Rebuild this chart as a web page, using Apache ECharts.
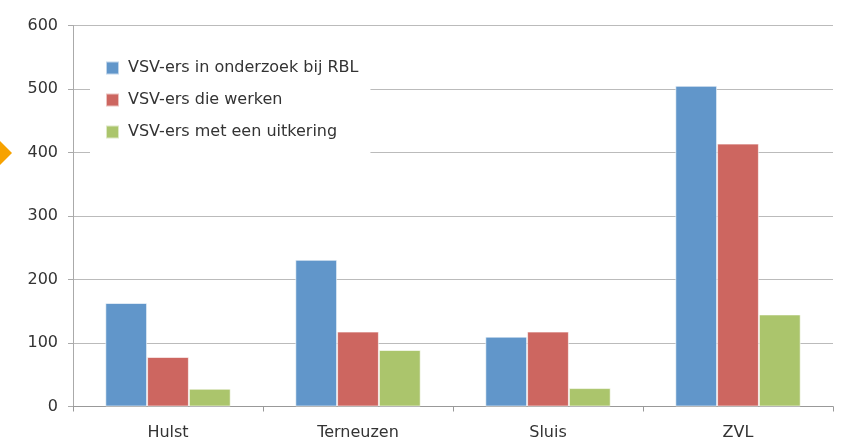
<!DOCTYPE html>
<html>
<head>
<meta charset="utf-8">
<script src="https://cdn.jsdelivr.net/npm/echarts@6/dist/echarts.min.js"></script>
<style>
  html, body { margin: 0; padding: 0; background: #fff; }
  #chart { width: 851px; height: 439px; }
</style>
</head>
<body>
<div id="chart"></div>
<script>
  // categorieen en waarden
  var regios = ['Hulst', 'Terneuzen', 'Sluis', 'ZVL'];
  var onderzoek = [163, 231, 110, 505];
  var werken = [78, 118, 118, 414];
  var uitkering = [28, 89, 29, 145];
  var reeksNamen = ['VSV-ers in onderzoek bij RBL', 'VSV-ers die werken', 'VSV-ers met een uitkering'];
  var kleuren = ['#6196ca', '#cd6660', '#abc56c'];

  var font = '"DejaVu Sans", "Noto Sans", sans-serif';
  var chart = echarts.init(document.getElementById('chart'));

  function reeks(i, data) {
    return {
      name: reeksNamen[i],
      type: 'bar',
      data: data,
      barGap: '0%',
      barCategoryGap: '34%',
      itemStyle: { color: kleuren[i], borderColor: 'rgba(255,255,255,0.6)', borderWidth: 1 }
    };
  }

  chart.setOption({
    animation: false,
    textStyle: { fontFamily: font },
    grid: { left: 73, right: 18, top: 25.5, bottom: 32.5, outerBoundsMode: 'none', containLabel: false },
    legend: {
      orient: 'vertical',
      left: 90,
      top: 45,
      padding: [15, 12, 26, 15],
      backgroundColor: '#fff',
      itemWidth: 13,
      itemHeight: 13,
      itemGap: 16,
      icon: 'rect',
      textStyle: { fontFamily: font, fontSize: 16, color: '#333', padding: [0, 0, 0, 4] },
      data: reeksNamen
    },
    xAxis: {
      type: 'category',
      data: regios,
      axisLine: { lineStyle: { color: '#999' } },
      axisTick: { show: true, length: 5, lineStyle: { color: '#999' } },
      axisLabel: { fontFamily: font, fontSize: 16, color: '#333', margin: 18 }
    },
    yAxis: {
      type: 'value',
      min: 0,
      max: 600,
      interval: 100,
      axisLine: { show: true, lineStyle: { color: '#aaa' } },
      axisTick: { show: true, length: 5, lineStyle: { color: '#aaa' } },
      axisLabel: { fontFamily: font, fontSize: 16, color: '#333', margin: 15, padding: [6, 0, 0, 0] },
      splitLine: { lineStyle: { color: '#bbb', width: 1 } }
    },
    graphic: [{
      type: 'polygon',
      left: 0,
      top: 141,
      shape: { points: [[0, 0], [12, 12], [0, 24]] },
      style: { fill: '#f7a200' }
    }],
    series: [reeks(0, onderzoek), reeks(1, werken), reeks(2, uitkering)]
  });
</script>
</body>
</html>
